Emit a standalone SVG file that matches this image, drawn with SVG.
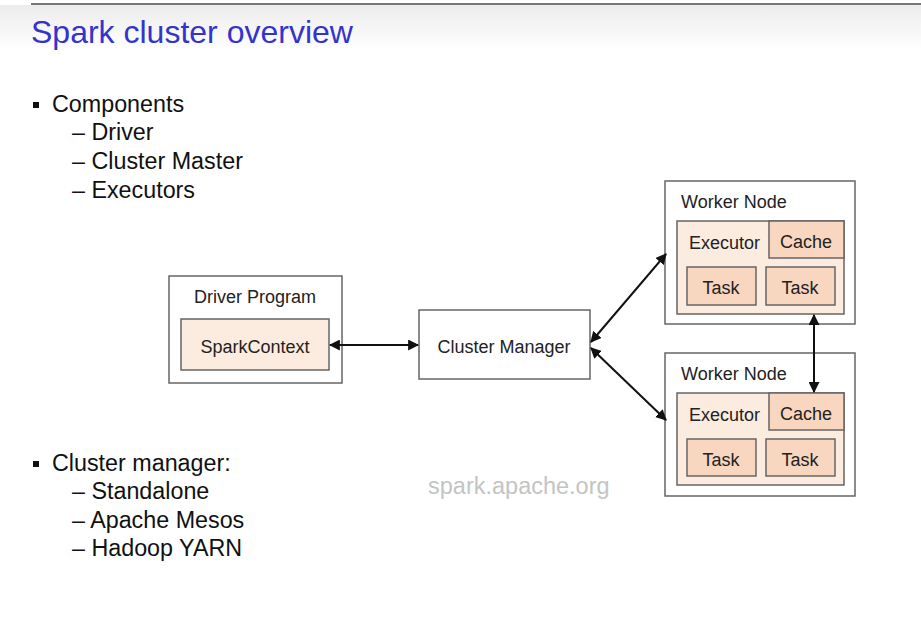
<svg xmlns="http://www.w3.org/2000/svg" width="921" height="623" viewBox="0 0 921 623">
<defs>
<linearGradient id="hdr" x1="0" y1="0" x2="0" y2="1">
<stop offset="0" stop-color="#ececec"/>
<stop offset="1" stop-color="#ffffff"/>
</linearGradient>
<marker id="ah" viewBox="0 0 10 10" refX="9" refY="5" markerWidth="5.5" markerHeight="5.5" orient="auto-start-reverse" markerUnits="strokeWidth">
<path d="M0,0 L10,5 L0,10 Z" fill="#111"/>
</marker>
<style>
.txt{font-family:"Liberation Sans",Arial,sans-serif;fill:#111}
.bul{font-size:23.3px}
.dg{font-family:"Liberation Sans",Arial,sans-serif;font-size:18px;fill:#222}
.outer{fill:#ffffff;stroke:#666;stroke-width:1.5}
.light{fill:#fcebdf;stroke:#666;stroke-width:1.5}
.dark{fill:#f9d6bf;stroke:#666;stroke-width:1.5}
.conn{stroke:#111;stroke-width:2;fill:none;marker-start:url(#ah);marker-end:url(#ah)}
</style>
</defs>
<rect x="0" y="0" width="921" height="623" fill="#ffffff"/>
<rect x="0" y="5" width="921" height="45" fill="url(#hdr)"/>
<line x1="31" y1="4" x2="921" y2="4" stroke="#777" stroke-width="2"/>
<text x="31" y="43" font-family="Liberation Sans, Arial, sans-serif" font-size="32" fill="#3434cc">Spark cluster overview</text>

<g id="bullets-components" class="txt">
<rect x="33" y="102" width="6" height="6" fill="#111"/>
<text x="52" y="112" class="txt bul">Components</text>
<text x="72" y="140" class="txt bul">– Driver</text>
<text x="72" y="169" class="txt bul">– Cluster Master</text>
<text x="72" y="198" class="txt bul">– Executors</text>
</g>
<g id="bullets-manager" class="txt">
<rect x="33" y="461" width="6" height="6" fill="#111"/>
<text x="52" y="471" class="txt bul">Cluster manager:</text>
<text x="72" y="499" class="txt bul">– Standalone</text>
<text x="72" y="528" class="txt bul">– Apache Mesos</text>
<text x="72" y="556" class="txt bul">– Hadoop YARN</text>
</g>
<text x="428" y="494" font-family="Liberation Sans, Arial, sans-serif" font-size="23.5" fill="#c4c4c4">spark.apache.org</text>

<g id="driver">
<rect class="outer" x="169" y="276" width="173" height="107"/>
<text class="dg" x="255" y="303" text-anchor="middle">Driver Program</text>
<rect class="light" x="181" y="319" width="148" height="51"/>
<text class="dg" x="255" y="353" text-anchor="middle">SparkContext</text>
</g>

<g id="cluster-manager">
<rect class="outer" x="419" y="310" width="171" height="69"/>
<text class="dg" x="504" y="353" text-anchor="middle">Cluster Manager</text>
</g>

<g id="worker1">
<rect class="outer" x="665" y="181" width="190" height="143"/>
<text class="dg" x="681" y="208">Worker Node</text>
<rect class="light" x="677" y="221" width="167" height="93"/>
<rect class="dark" x="769" y="221" width="75" height="37"/>
<text class="dg" x="689" y="249">Executor</text>
<text class="dg" x="806" y="248" text-anchor="middle">Cache</text>
<rect class="dark" x="687" y="267" width="69" height="38"/>
<rect class="dark" x="766" y="267" width="69" height="38"/>
<text class="dg" x="721" y="294" text-anchor="middle">Task</text>
<text class="dg" x="800" y="294" text-anchor="middle">Task</text>
</g>

<g id="worker2">
<rect class="outer" x="665" y="353" width="190" height="143"/>
<text class="dg" x="681" y="380">Worker Node</text>
<rect class="light" x="677" y="393" width="167" height="92"/>
<rect class="dark" x="769" y="393" width="75" height="37"/>
<text class="dg" x="689" y="421">Executor</text>
<text class="dg" x="806" y="420" text-anchor="middle">Cache</text>
<rect class="dark" x="687" y="439" width="69" height="37"/>
<rect class="dark" x="766" y="439" width="69" height="37"/>
<text class="dg" x="721" y="466" text-anchor="middle">Task</text>
<text class="dg" x="800" y="466" text-anchor="middle">Task</text>
</g>

<g id="connectors">
<line class="conn" x1="330" y1="345" x2="418" y2="345"/>
<line class="conn" x1="591" y1="342" x2="666" y2="254"/>
<line class="conn" x1="591" y1="348" x2="666" y2="420"/>
<line class="conn" x1="814" y1="315" x2="814" y2="392"/>
</g>
</svg>
